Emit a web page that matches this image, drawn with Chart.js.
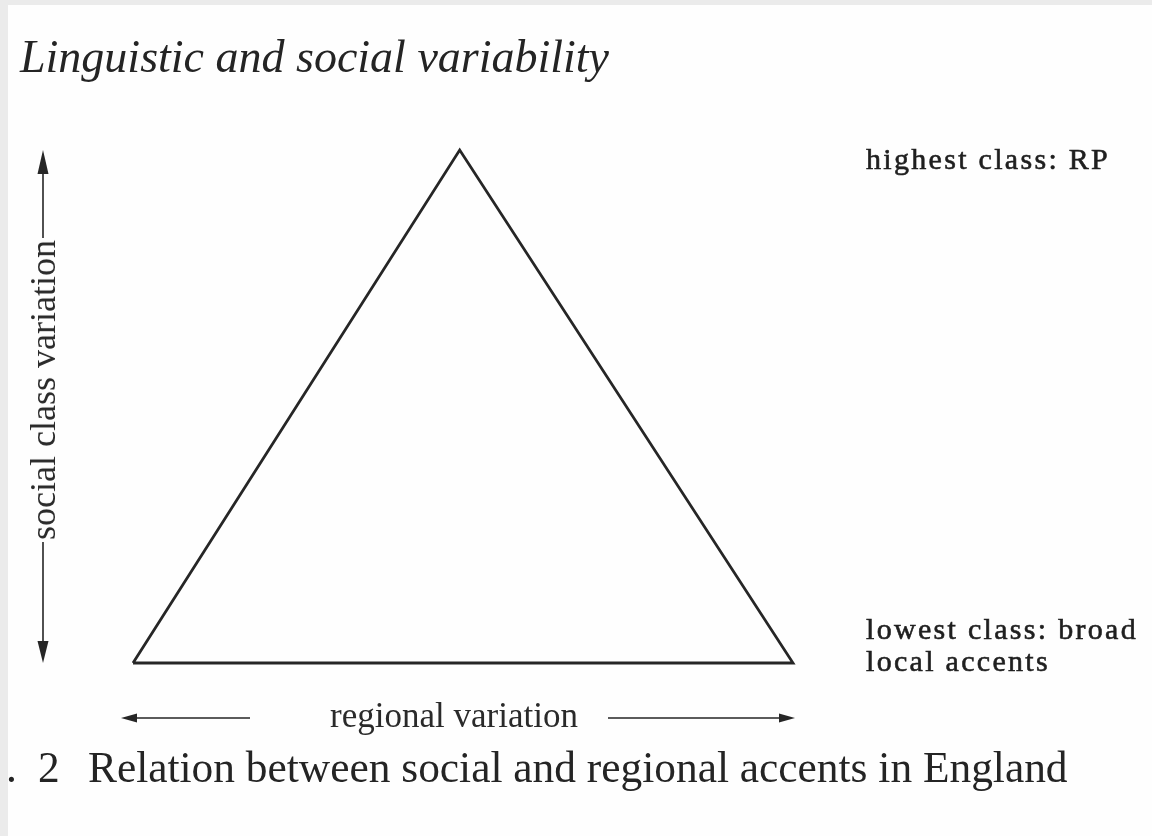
<!DOCTYPE html>
<html>

<head>
    <title>Linguistic and social variability</title>
    <script src="https://cdn.jsdelivr.net/npm/chart.js@4.4.0/dist/chart.umd.min.js"></script>
    <style>
        body {
            margin: 0;
            background: #ebebeb;
            font-family: "Liberation Serif", "DejaVu Serif", serif;
            color: #242424;
        }

        .page {
            position: absolute;
            left: 8px;
            top: 5px;
            width: 1144px;
            height: 831px;
            background: #fefefe;
        }

        #wrap {
            position: absolute;
            left: 0;
            top: 0;
            width: 1152px;
            height: 836px;
        }

        .txt {
            position: absolute;
            white-space: nowrap;
        }

        .title {
            left: 20px;
            top: 30px;
            font-size: 46px;
            font-style: italic;
        }

        .caption {
            top: 742px;
            font-size: 43.4px;
        }

        .side {
            left: 866px;
            font-size: 30px;
            line-height: 32px;
            letter-spacing: 2.3px;
            color: #1f1f1f;
            -webkit-text-stroke: 0.6px #1f1f1f;
        }

        .axis-label {
            font-size: 35px;
            color: #2a2a2a;
        }
    </style>
</head>

<body>
    <div class="page"></div>
    <div id="wrap"><canvas id="tri"></canvas></div>

    <div class="txt title">Linguistic and social variability</div>
    <div class="txt side" style="top: 143px;">highest class: RP</div>
    <div class="txt side" style="top: 613px;">lowest class: broad<br>local accents</div>
    <div class="txt axis-label" style="left: 454px; top: 716px; transform: translate(-50%, -50%);">regional variation</div>
    <div class="txt axis-label" style="left: 43px; top: 390px; font-size: 36px; transform: translate(-50%, -50%) rotate(-90deg);">social class variation</div>
    <div class="txt caption" style="left: 6px;">.</div>
    <div class="txt caption" style="left: 38px;">2</div>
    <div class="txt caption" style="left: 88px;">Relation between social and regional accents in England</div>

    <script>
        // triangle: regional spread (x) against social class (y)
        var regional = [0, 49.5, 100, 0];
        var socialClass = [0, 100, 0, 0];

        var points = regional.map(function(r, i) {
            return { x: r, y: socialClass[i] };
        });

        var ink = '#262626';

        function head(ctx, x, y, dx, dy, len, half) {
            // filled arrow head pointing along (dx, dy)
            var px = -dy, py = dx;
            ctx.beginPath();
            ctx.moveTo(x, y);
            ctx.lineTo(x - dx * len + px * half, y - dy * len + py * half);
            ctx.lineTo(x - dx * len - px * half, y - dy * len - py * half);
            ctx.closePath();
            ctx.fill();
        }

        var arrowsPlugin = {
            id: 'arrows',
            afterDraw: function(chart) {
                var ctx = chart.ctx;
                var a = chart.chartArea;
                ctx.save();
                ctx.strokeStyle = ink;
                ctx.fillStyle = ink;
                ctx.lineWidth = 1.6;

                // social class arrow, left of the triangle
                var vx = a.left - 90;
                var top = a.top, bottom = a.bottom;
                ctx.beginPath();
                ctx.moveTo(vx, top + 10);
                ctx.lineTo(vx, 238);
                ctx.moveTo(vx, 542);
                ctx.lineTo(vx, bottom - 10);
                ctx.stroke();
                head(ctx, vx, top, 0, -1, 24, 5.5);
                head(ctx, vx, bottom, 0, 1, 22, 5.5);

                // regional arrow, under the triangle
                var hy = a.bottom + 55;
                ctx.beginPath();
                ctx.moveTo(a.left - 5, hy);
                ctx.lineTo(250, hy);
                ctx.moveTo(608, hy);
                ctx.lineTo(a.right - 5, hy);
                ctx.stroke();
                head(ctx, a.left - 12, hy, -1, 0, 16, 4.5);
                head(ctx, a.right + 2, hy, 1, 0, 16, 4.5);
                ctx.restore();
            }
        };

        var ctx = document.getElementById('tri').getContext('2d');
        new Chart(ctx, {
            type: 'scatter',
            data: {
                datasets: [{
                    data: points,
                    showLine: true,
                    tension: 0,
                    fill: false,
                    clip: false,
                    borderColor: ink,
                    borderWidth: 2.8,
                    borderJoinStyle: 'miter',
                    pointRadius: 0
                }]
            },
            options: {
                responsive: true,
                maintainAspectRatio: false,
                animation: false,
                layout: {
                    padding: { left: 133, right: 359, top: 150, bottom: 173 }
                },
                plugins: {
                    legend: { display: false },
                    tooltip: { enabled: false }
                },
                scales: {
                    x: { type: 'linear', min: 0, max: 100, display: false },
                    y: { type: 'linear', min: 0, max: 100, display: false }
                }
            },
            plugins: [arrowsPlugin]
        });
    </script>
</body>

</html>
